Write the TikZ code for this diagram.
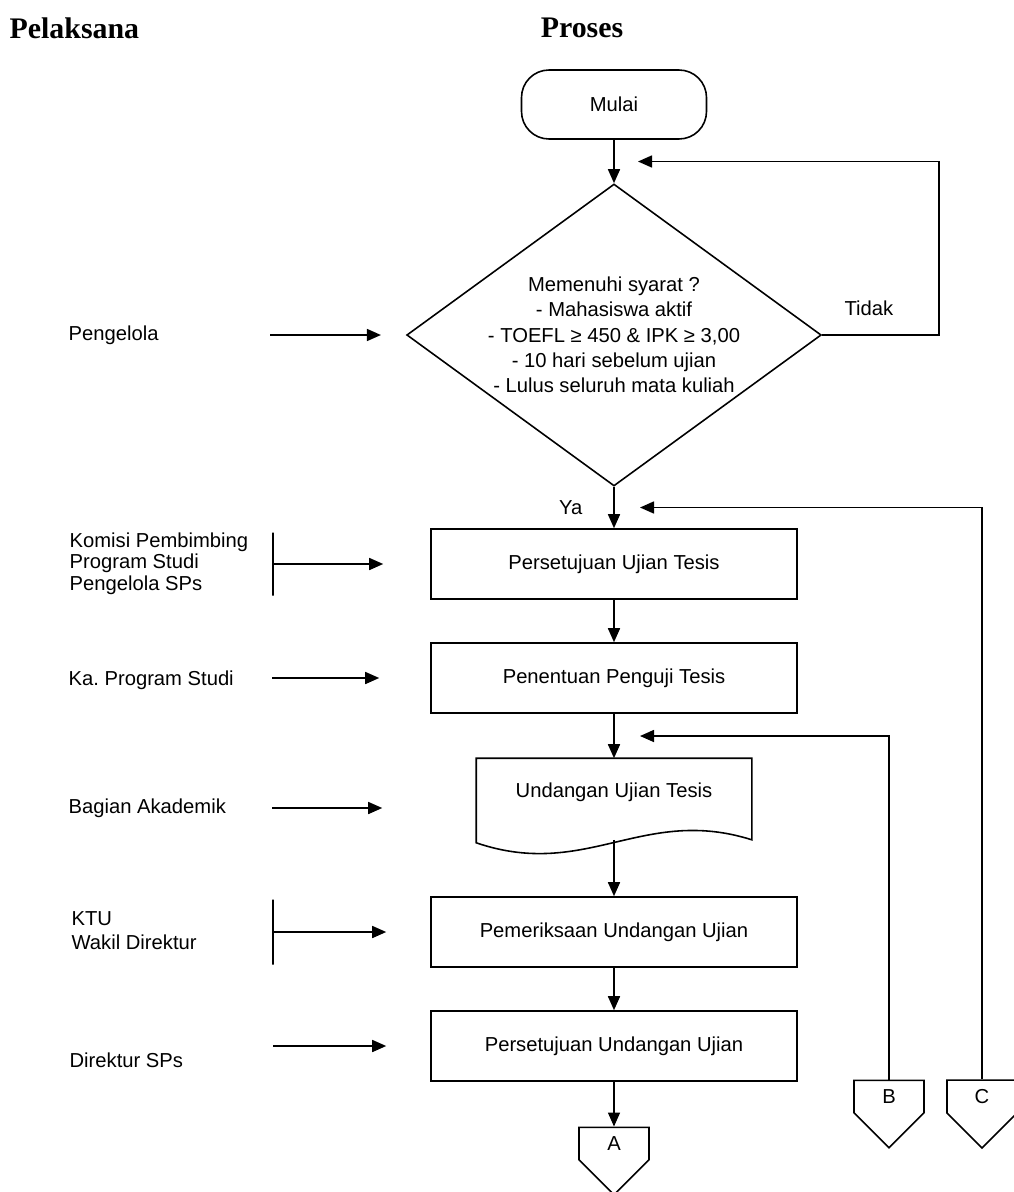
\documentclass[tikz,border=0pt]{standalone}
\usepackage{fontspec}
\setmainfont{Liberation Sans}
\newfontfamily\titlefont{Liberation Serif}
\usetikzlibrary{arrows.meta,shapes.geometric,shapes.symbols,calc}

\begin{document}
\begin{tikzpicture}[>={Triangle[length=0.28cm,width=0.24cm]},line width=0.9pt,
                    node distance=2.28cm,
                    every node/.style={font=\fontsize{11.5}{14}\selectfont},
                    terminal/.style={draw,rounded corners=0.55cm,minimum width=3.7cm,minimum height=1.38cm},
                    decision/.style={draw,diamond,aspect=1.4,minimum width=8.2cm,minimum height=6.04cm,
                                     inner sep=0pt,align=center,font=\fontsize{11.5}{14.4}\selectfont},
                    process/.style={draw,rectangle,minimum width=7.32cm,minimum height=1.4cm},
                    docu/.style={rectangle,minimum width=5.48cm,minimum height=1.32cm},
                    offpage/.style={draw,signal,signal to=south,signal pointer angle=90,
                                    minimum width=1.4cm,minimum height=0pt,inner xsep=0pt,inner ysep=0.185cm},
                    actor/.style={anchor=west,align=left},
                    bar/.style={draw,inner sep=0pt,minimum width=0pt,minimum height=#1},
                    heading/.style={font=\titlefont\bfseries\fontsize{17}{20}\selectfont}]

  \useasboundingbox (0,0) rectangle (20.26,-23.84);

  \node[heading,anchor=west] (pelaksana) at (0.06,-0.56) {Pelaksana};
  \node[heading]             (proses)    at (11.64,-0.56) {Proses};

  \node[terminal] (start) at (12.28,-2.09)                     {Mulai};
  \node[decision] (cond)      [below of=start,node distance=4.61cm]
        {Memenuhi syarat ?\\- Mahasiswa aktif\\- TOEFL ≥ 450 \& IPK ≥ 3,00\\- 10 hari sebelum ujian\\- Lulus seluruh mata kuliah};
  \node[process]  (setuju)    [below of=cond,node distance=4.58cm]   {Persetujuan Ujian Tesis};
  \node[process]  (penguji)   [below of=setuju]                      {Penentuan Penguji Tesis};
  \node[docu]     (undangan)  [below of=penguji,node distance=2.28cm] {Undangan Ujian Tesis};
  \node[process]  (periksa)   [below of=undangan,node distance=2.8cm] {Pemeriksaan Undangan Ujian};
  \node[process]  (setujuund) [below of=periksa]                     {Persetujuan Undangan Ujian};
  \node[offpage]  (A)         [below of=setujuund,node distance=1.95cm] {A};
  \node[offpage]  (B)         [right of=setujuund,node distance=5.5cm,yshift=-1.01cm] {B};
  \node[offpage]  (C)         [right of=B,node distance=1.86cm] {C};

  % document outline with wavy bottom
  \draw (undangan.north west) -- (undangan.north east)
        -- ([yshift=-0.28cm]undangan.south east)
        .. controls +(-2.18,0.69) and +(2.2,-0.75) .. ([yshift=-0.34cm]undangan.south west)
        -- cycle;

  \coordinate (j1) at ($(start.south)!0.5!(cond.north)+(0.48,0)$);
  \coordinate (j2) at ($(cond.south)!0.5!(setuju.north)+(0.52,0)$);
  \coordinate (j3) at ($(penguji.south)!0.5!(undangan.north)+(0.52,0)$);

  \path[->] (start)    edge (cond)
            (cond)     edge node[left=0.5cm] {Ya} (setuju)
            (setuju)   edge (penguji)
            (penguji)  edge (undangan)
            ([yshift=-0.28cm]undangan.south) edge (periksa)
            (periksa)  edge (setujuund)
            (setujuund) edge (A);

  \draw[->] (cond.east) -- ++(2.34,0) node[pos=0.4,above=0.26cm] {Tidak} |- (j1);
  \draw[->] (C.north) |- (j2);
  \draw[->] (B.north) |- (j3);

  % pelaksana
  \node[actor] (pengelola) at (1.24,-6.70)  {Pengelola};
  \node[actor,font=\fontsize{11.5}{12.2}\selectfont] (komisi) at (1.26,-11.27)
        {Komisi Pembimbing\\Program Studi\\Pengelola SPs};
  \node[actor] (kaprodi)   at (1.24,-13.60) {Ka.\ Program Studi};
  \node[actor] (akademik)  at (1.24,-16.16) {Bagian Akademik};
  \node[actor,font=\fontsize{11.5}{13.6}\selectfont] (ktu) at (1.30,-18.62)
        {KTU\\Wakil Direktur};
  \node[actor] (direktur)  at (1.26,-21.20) {Direktur SPs};

  \coordinate (tPengelola) at (5.40,-6.70);
  \node[bar=1.26cm] (komisibar) at (5.46,-11.28) {};
  \coordinate (tKaprodi)   at (5.44,-13.56);
  \coordinate (tAkademik)  at (5.44,-16.16);
  \node[bar=1.3cm]  (ktubar)    at (5.46,-18.64) {};
  \coordinate (tDirektur)  at (5.46,-20.92);

  \draw[->,shorten >=0.5cm]  (tPengelola) -- (tPengelola -| cond.west);
  \draw[->,shorten >=0.94cm] (komisibar) -- (komisibar -| setuju.west);
  \draw[->,shorten >=1.02cm] (tKaprodi) -- (tKaprodi -| penguji.west);
  \draw[->,shorten >=1.88cm] (tAkademik) -- (tAkademik -| undangan.west);
  \draw[->,shorten >=0.88cm] (ktubar) -- (ktubar -| periksa.west);
  \draw[->,shorten >=0.88cm] (tDirektur) -- (tDirektur -| setujuund.west);
\end{tikzpicture}
\end{document}
